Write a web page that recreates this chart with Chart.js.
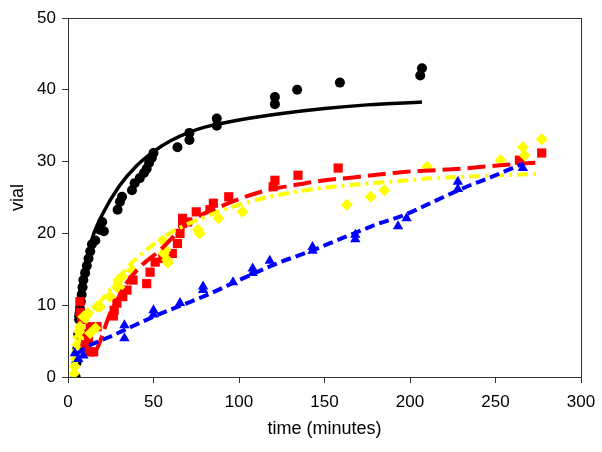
<!DOCTYPE html>
<html>
<head>
<meta charset="utf-8">
<script src="https://cdn.jsdelivr.net/npm/chart.js@4"></script>
<style>
  html, body { margin: 0; padding: 0; background: #fff; }
  #wrap { width: 602px; height: 452px; }
</style>
</head>
<body>
<div id="wrap"><canvas id="chart" width="602" height="452"></canvas></div>
<script>
const blackX = [4.5, 5, 5.5, 6, 6.5, 7, 7.5, 8, 8.5, 9, 10, 11, 12, 13, 14, 16, 18.7, 20, 21, 29, 30.4, 31.6, 37.4, 39, 42, 44.4, 46, 47.4, 49, 50, 64, 71, 71, 87, 87, 121, 121, 134, 159, 206, 207];
const blackY = [0, 2, 4, 6, 8, 9.5, 10.5, 11.5, 12.5, 13.5, 14.5, 15.5, 16.5, 17.5, 18.5, 19, 20.5, 21.6, 20.3, 23.3, 24.4, 25.1, 26, 27, 27.7, 28.4, 29, 29.8, 30.5, 31.2, 32, 33, 34, 35, 36, 38, 39, 40, 41, 42, 43];

const redX = [7, 7, 8, 9, 10, 12, 13, 13, 15, 17, 26.5, 27, 28.6, 32, 34.5, 38, 46, 48, 51, 55.5, 61, 64, 65.5, 67, 67, 70, 75, 83, 85, 94, 120, 121, 134.5, 158, 264, 277];
const redY = [9, 10.5, 8, 6, 4.5, 5, 7, 3.5, 3.5, 7, 8.5, 9.3, 10.3, 11.2, 12.1, 13.5, 13, 14.6, 16, 16.5, 17.2, 18.6, 20, 21.4, 22.1, 21.6, 23, 23.3, 24.2, 25.1, 26.5, 27.4, 28.1, 29.1, 30.2, 31.2];

const yellowX = [3.5, 4, 4.5, 5, 5.5, 6, 6.5, 7, 9, 11.7, 13, 16, 17, 18.7, 24.5, 28.6, 29.5, 30, 31.6, 37.4, 55.5, 56, 57, 58, 58.5, 76, 77, 88, 102, 163, 177, 185, 210, 253, 266, 267, 277];
const yellowY = [0.5, 1.5, 2.5, 3.5, 4.5, 5.5, 6.3, 7, 8.4, 8.9, 6.1, 6.8, 9.8, 9.8, 11.2, 12.5, 13.5, 12.5, 14, 14.9, 19, 17.2, 17.7, 16.3, 15.9, 20.5, 20, 22.1, 23, 24, 25.1, 26, 29.3, 30.2, 32, 30.9, 33.1];

const blueX = [4, 6, 9, 33, 33, 50, 50, 65.5, 79, 79, 96.5, 108, 108, 118, 143, 143, 168, 168, 193, 198, 228, 228, 266];
const blueY = [3.3, 2.5, 3, 5.4, 7.2, 8.7, 9.3, 10.3, 12.1, 12.6, 13.2, 14.5, 15.1, 16.2, 17.6, 18.1, 19.2, 19.8, 21, 22.1, 26.2, 27.2, 29.1];

// fitted curves
const blackFitX = [4.5, 6, 8, 10, 15, 20, 30, 40, 50, 60, 70, 80, 100, 125, 150, 175, 207];
const blackFitY = [8.3, 10.5, 13.5, 15.6, 19.9, 22.6, 26.6, 29.4, 31.4, 32.9, 34.0, 34.8, 35.8, 36.7, 37.4, 37.9, 38.3];

const redFitX = [6, 9, 12, 15, 18, 21, 24, 28, 34, 42, 54, 61, 68, 75, 85, 98, 116, 132, 147, 167, 186, 198, 215, 229, 253, 276];
const redFitY = [5.5, 4.2, 3.4, 3.4, 4.5, 6.5, 8.5, 10.4, 13, 15.3, 17.7, 19.4, 21, 22.2, 23.3, 24.6, 26, 26.7, 27.3, 27.8, 28.3, 28.6, 28.8, 29, 29.5, 29.9];

const yellowFitX = [4, 5, 7, 10, 14, 19, 24, 29, 36, 46, 58, 70, 77, 96, 116, 136, 155, 178, 194, 213, 243, 276];
const yellowFitY = [1, 3, 5.6, 7.5, 9, 10.5, 12, 13.5, 15.6, 17.7, 19.8, 21.3, 22, 23.7, 25, 25.9, 26.5, 27, 27.3, 27.7, 28, 28.3];

const blueFitX = [5, 11, 24.5, 38, 52, 65.5, 75, 83, 102, 122, 141.5, 161, 181, 196, 210, 219, 233, 247, 260, 266];
const blueFitY = [3.2, 4.2, 5.6, 7.1, 8.6, 9.9, 10.8, 11.6, 13.7, 15.8, 17.5, 19.4, 21.3, 22.5, 24, 25, 26.5, 27.8, 29.1, 29.7];

const xTicks = [0, 50, 100, 150, 200, 250, 300];
const yTicks = [0, 10, 20, 30, 40, 50];

const pts = (xs, ys) => xs.map((x, i) => ({ x: x, y: ys[i] }));

function markers(xs, ys, color, style, r, order) {
    return {
        type: 'scatter', data: pts(xs, ys), showLine: false,
        pointStyle: style, pointRadius: r, pointBackgroundColor: color,
        pointBorderColor: color, pointBorderWidth: 0, order: order
    };
}
function fit(xs, ys, color, dash, width, order) {
    return {
        type: 'line', data: pts(xs, ys), borderColor: color, borderWidth: width,
        borderDash: dash, pointRadius: 0, cubicInterpolationMode: 'monotone',
        fill: false, order: order
    };
}

// boite autour de la zone de tracé
const frame = {
    id: 'frame',
    afterDraw(chart) {
        const { ctx, chartArea: a } = chart;
        ctx.save();
        ctx.strokeStyle = '#333';
        ctx.lineWidth = 1;
        ctx.strokeRect(a.left + 0.5, a.top + 0.5, a.right - a.left, a.bottom - a.top);
        ctx.restore();
    }
};

const font = { family: 'Liberation Sans, Arial, sans-serif', size: 17 };
const titleFont = { family: 'Liberation Sans, Arial, sans-serif', size: 18 };

new Chart(document.getElementById('chart'), {
    data: {
        datasets: [
            markers(blackX, blackY, '#000000', 'circle', 5, 9),
            fit(blackFitX, blackFitY, '#000000', [], 3.5, 8),
            markers(redX, redY, '#ff0000', 'rect', 6.5, 7),
            markers(yellowX, yellowY, '#ffff00', 'rectRot', 6, 6),
            fit(redFitX, redFitY, '#ff0000', [18, 7], 4, 5),
            fit(yellowFitX, yellowFitY, '#ffff00', [11, 5, 3, 5], 4, 4),
            markers(blueX, blueY, '#0000ff', 'triangle', 6, 3),
            fit(blueFitX, blueFitY, '#0000ff', [10, 5], 4, 2)
        ]
    },
    options: {
        responsive: false,
        animation: false,
        layout: { padding: { top: 18, right: 21, left: 0, bottom: 0 } },
        plugins: { legend: { display: false }, tooltip: { enabled: false } },
        scales: {
            x: {
                type: 'linear', min: 0, max: 300,
                afterBuildTicks: s => { s.ticks = xTicks.map(v => ({ value: v })); },
                afterFit: s => { s.height = 75; s.paddingRight = 0; s.paddingLeft = 0; },
                grid: { drawOnChartArea: false, tickLength: 6, color: '#333' },
                border: { color: '#333' },
                ticks: { color: '#000', font: font, padding: 9, maxRotation: 0 },
                title: { display: true, text: 'time (minutes)', color: '#000', font: titleFont, padding: { top: 4, bottom: 12 } }
            },
            y: {
                type: 'linear', min: 0, max: 50,
                afterBuildTicks: s => { s.ticks = yTicks.map(v => ({ value: v })); },
                afterFit: s => { s.width = 68; s.paddingTop = 0; s.paddingBottom = 0; },
                grid: { drawOnChartArea: false, tickLength: 6, color: '#333' },
                border: { color: '#333' },
                ticks: { color: '#000', font: font, padding: 6 },
                title: { display: true, text: 'vial', color: '#000', font: titleFont, padding: { top: 7, bottom: 4 } }
            }
        }
    },
    plugins: [frame]
});
</script>
</body>
</html>
